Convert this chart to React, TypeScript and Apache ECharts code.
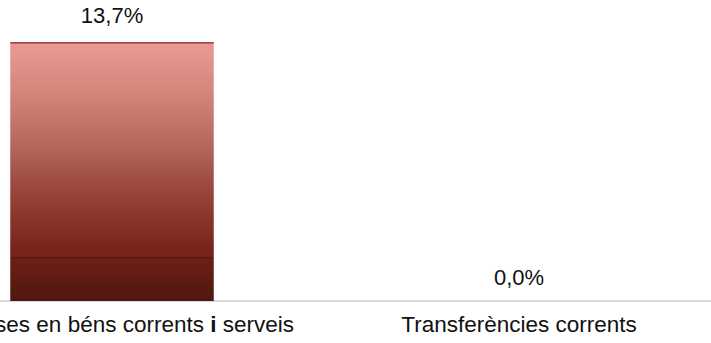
import React, { useEffect, useRef } from "react";
import * as echarts from "echarts";

const categories = ["Despeses en béns corrents i serveis", "Transferències corrents"];
const values = [13.7, 0];
const labelDistances = [15, 13];

const fmtPct = (v: number) => v.toFixed(1).replace(".", ",") + "%";

export default function App() {
  const ref = useRef<HTMLDivElement>(null);
  useEffect(() => {
    if (!ref.current) return;
    const chart = echarts.init(ref.current, null, { renderer: "svg" });
    const gradient = new echarts.graphic.LinearGradient(0, 0, 0, 1, [
      { offset: 0, color: "#a04a42" },
      { offset: 0.005, color: "#a04a42" },
      { offset: 0.008, color: "#e99a91" },
      { offset: 0.2, color: "#d5847a" },
      { offset: 0.4, color: "#b6665b" },
      { offset: 0.6, color: "#944136" },
      { offset: 0.8, color: "#78241a" },
      { offset: 0.83, color: "#74221a" },
      { offset: 0.831, color: "#5e1a12" },
      { offset: 0.836, color: "#5e1a12" },
      { offset: 0.837, color: "#6d1f17" },
      { offset: 1, color: "#4e1710" },
    ]);
    chart.setOption({
      animation: false,
      grid: {
        left: -91.5,
        right: -11.5,
        top: 36.3,
        bottom: 42,
        containLabel: false,
        outerBoundsMode: "none",
      },
      xAxis: {
        type: "category",
        data: categories,
        axisLine: { show: true, lineStyle: { color: "#d9d9d9", width: 2 } },
        axisTick: { show: false },
        splitLine: { show: false },
        axisLabel: {
          interval: 0,
          margin: 12,
          fontFamily: "Liberation Sans, Arial, sans-serif",
          fontSize: 22.5,
          color: "#111",
          formatter: (v: string) => v.replace(" i ", " {b|i} "),
          rich: {
            b: {
              fontFamily: "Liberation Sans, Arial, sans-serif",
              fontSize: 22.5,
              fontWeight: "bold",
              color: "#111",
            },
          },
        },
      },
      yAxis: {
        type: "value",
        min: 0,
        max: 14,
        show: false,
        splitLine: { show: false },
      },
      series: [
        {
          type: "bar",
          barWidth: "50%",
          data: values.map((v, i) => ({
            value: v,
            label: {
              show: true,
              position: "top",
              distance: labelDistances[i],
            },
          })),
          itemStyle: { color: gradient },
          label: {
            show: true,
            position: "top",
            fontFamily: "Liberation Sans, Arial, sans-serif",
            fontSize: 22,
            color: "#111",
            formatter: (p: any) => fmtPct(p.value),
          },
        },
      ],
    });
    return () => chart.dispose();
  }, []);
  return (
    <div
      ref={ref}
      style={{ position: "absolute", left: 0, top: 0, width: 711, height: 343 }}
    />
  );
}
